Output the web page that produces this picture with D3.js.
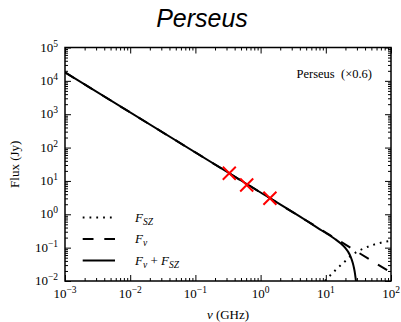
<!DOCTYPE html>
<html>
<head>
<meta charset="utf-8">
<script src="https://cdn.jsdelivr.net/npm/d3@7"></script>
<style>
  html, body { margin: 0; padding: 0; background: #fff; }
  svg { display: block; }
  .serif { font-family: "Liberation Serif", "DejaVu Serif", serif; }
</style>
</head>
<body>
<svg id="chart" width="401" height="322"></svg>
<script>
// Synchrotron spectrum Fν (power law)
const nuSync   = [0.001, 0.01, 0.1, 1, 10, 100];
const fluxSync = [17900, 1130, 71.3, 4.50, 0.284, 0.0179];

// SZ decrement |F_SZ|
const nuSZ   = [9.7, 10.5, 12, 14, 17, 20, 24, 28, 33, 40, 50, 60, 70, 80, 90, 100];
const fluxSZ = [0.010, 0.012, 0.0155, 0.021, 0.030, 0.040, 0.056, 0.069, 0.083, 0.098, 0.116, 0.130, 0.141, 0.149, 0.155, 0.160];

// Total Fν + F_SZ
const nuTotal   = [0.001, 1, 5, 8, 10, 12, 14, 17, 20, 22, 24, 26, 27, 28, 28.6, 29.2];
const fluxTotal = [17900, 4.50, 0.65, 0.36, 0.275, 0.22, 0.178, 0.132, 0.097, 0.075, 0.054, 0.034, 0.025, 0.017, 0.0125, 0.009];

// Measured points
const nuObs   = [0.331, 0.612, 1.39];
const fluxObs = [16.9, 7.55, 3.01];

// Axis decades
const xTickExps = [-3, -2, -1, 0, 1, 2];
const yTickExps = [-2, -1, 0, 1, 2, 3, 4, 5];

const svg = d3.select("#chart");
const L = 65, R = 391, T = 47.5, B = 281;

const x = d3.scaleLog().domain([1e-3, 1e2]).range([L, R]);
const y = d3.scaleLog().domain([1e-2, 1e5]).range([B, T]);

function minorTicks(exps) {
  const out = [];
  for (let i = 0; i < exps.length - 1; i++)
    for (let k = 2; k <= 9; k++) out.push(k * Math.pow(10, exps[i]));
  return out;
}
const xMajor = xTickExps.map(e => Math.pow(10, e));
const yMajor = yTickExps.map(e => Math.pow(10, e));
const xMinor = minorTicks(xTickExps);
const yMinor = minorTicks(yTickExps);

// Title
svg.append("text")
  .attr("x", 202).attr("y", 27)
  .attr("text-anchor", "middle")
  .style("font-family", "'Liberation Sans', Arial, sans-serif")
  .style("font-style", "italic")
  .style("font-size", "25px")
  .text("Perseus");

// Clip region for curves
svg.append("clipPath").attr("id", "plotclip")
  .append("rect").attr("x", L).attr("y", T).attr("width", R - L).attr("height", B - T);

const plot = svg.append("g").attr("clip-path", "url(#plotclip)");

const line = d3.line()
  .x(d => x(d[0])).y(d => y(d[1]))
  .curve(d3.curveMonotoneX);

// F_SZ (dotted)
plot.append("path")
  .datum(d3.zip(nuSZ, fluxSZ))
  .attr("d", line)
  .attr("fill", "none").attr("stroke", "#000").attr("stroke-width", 2)
  .attr("stroke-dasharray", "1.8,5");

// Fν (dashed)
plot.append("path")
  .datum(d3.zip(nuSync, fluxSync))
  .attr("d", d3.line().x(d => x(d[0])).y(d => y(d[1])))
  .attr("fill", "none").attr("stroke", "#000").attr("stroke-width", 2)
  .attr("stroke-dasharray", "10.8,10.8");

// Fν + F_SZ (solid)
plot.append("path")
  .datum(d3.zip(nuTotal, fluxTotal))
  .attr("d", line)
  .attr("fill", "none").attr("stroke", "#000").attr("stroke-width", 2);

// Measured points as red crosses
const s = 6.5;
const obs = plot.selectAll("g.obs").data(d3.zip(nuObs, fluxObs)).join("g")
  .attr("class", "obs")
  .attr("transform", d => `translate(${x(d[0])},${y(d[1])})`);
obs.append("path")
  .attr("d", `M${-s},${-s}L${s},${s}M${-s},${s}L${s},${-s}`)
  .attr("stroke", "#ff0000").attr("stroke-width", 2).attr("fill", "none");

// Ticks on all four sides, pointing inward
function tickAxis(axisFn, scale, vals, size, transform) {
  svg.append("g")
    .attr("transform", transform)
    .call(axisFn(scale).tickValues(vals).tickSize(size).tickFormat(""))
    .call(g => g.select(".domain").remove())
    .call(g => g.selectAll(".tick line").attr("stroke", "#000").attr("stroke-width", 1));
}
tickAxis(d3.axisBottom, x, xMajor, -6, `translate(0,${B})`);
tickAxis(d3.axisBottom, x, xMinor, -3, `translate(0,${B})`);
tickAxis(d3.axisTop, x, xMajor, -6, `translate(0,${T})`);
tickAxis(d3.axisTop, x, xMinor, -3, `translate(0,${T})`);
tickAxis(d3.axisLeft, y, yMajor, -6, `translate(${L},0)`);
tickAxis(d3.axisLeft, y, yMinor, -3, `translate(${L},0)`);
tickAxis(d3.axisRight, y, yMajor, -6, `translate(${R},0)`);
tickAxis(d3.axisRight, y, yMinor, -3, `translate(${R},0)`);

// Frame
svg.append("rect")
  .attr("x", L).attr("y", T).attr("width", R - L).attr("height", B - T)
  .attr("fill", "none").attr("stroke", "#000").attr("stroke-width", 1.5);

// Tick labels with superscript exponents
function expLabel(sel, e) {
  sel.append("tspan").text("10");
  sel.append("tspan").attr("dy", -5).style("font-size", "9.5px")
    .text(String(e).replace("-", "\u2212"));
}
svg.append("g").attr("class", "serif").style("font-size", "13px")
  .selectAll("text").data(xTickExps).join("text")
  .attr("x", e => x(Math.pow(10, e)))
  .attr("y", 298)
  .attr("text-anchor", "middle")
  .each(function(e) { expLabel(d3.select(this), e); });

svg.append("g").attr("class", "serif").style("font-size", "13px")
  .selectAll("text").data(yTickExps).join("text")
  .attr("x", 58)
  .attr("y", e => y(Math.pow(10, e)) + 4)
  .attr("text-anchor", "end")
  .each(function(e) { expLabel(d3.select(this), e); });

// Axis titles
const xt = svg.append("text").attr("class", "serif")
  .attr("x", 228).attr("y", 319).attr("text-anchor", "middle")
  .style("font-size", "13px");
xt.append("tspan").style("font-style", "italic").text("ν");
xt.append("tspan").text(" (GHz)");

svg.append("text").attr("class", "serif")
  .attr("transform", `translate(19,${(T + B) / 2}) rotate(-90)`)
  .attr("text-anchor", "middle")
  .style("font-size", "13px")
  .text("Flux (Jy)");

// Annotation
svg.append("text").attr("class", "serif")
  .attr("x", 372).attr("y", 78)
  .attr("text-anchor", "end")
  .style("font-size", "12.5px")
  .style("white-space", "pre")
  .attr("xml:space", "preserve")
  .text("Perseus  (\u00d70.6)");

// Legend
const legendRows = [
  { dash: "1.8,5", y: 217.5, parts: [["F", false], ["SZ", true]] },
  { dash: "10.8,10.8", y: 239, parts: [["F", false], ["ν", true]] },
  { dash: null, y: 260.5, parts: [["F", false], ["ν", true], [" + ", "op"], ["F", false], ["SZ", true]] }
];
const lg = svg.append("g");
legendRows.forEach(r => {
  lg.append("line")
    .attr("x1", 82.7).attr("x2", 115).attr("y1", r.y).attr("y2", r.y)
    .attr("stroke", "#000").attr("stroke-width", 2)
    .attr("stroke-dasharray", r.dash);
  const t = lg.append("text").attr("class", "serif")
    .attr("x", 135).attr("y", r.y + 4.2)
    .style("font-size", "13px")
    .attr("xml:space", "preserve");
  let sub = false;
  r.parts.forEach(([txt, kind]) => {
    const ts = t.append("tspan").text(txt);
    if (kind === true) {
      ts.style("font-style", "italic").style("font-size", "9.5px").attr("dy", 3);
      sub = true;
    } else if (kind === "op") {
      ts.attr("dy", sub ? -3 : 0); sub = false;
    } else {
      ts.style("font-style", "italic");
      if (sub) { ts.attr("dy", -3); sub = false; }
    }
  });
});
</script>
</body>
</html>
